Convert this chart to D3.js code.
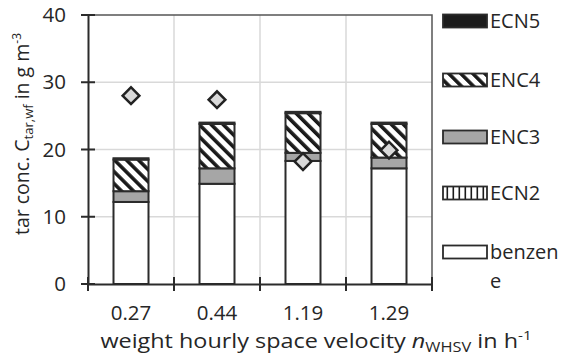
<!DOCTYPE html>
<html><head><meta charset="utf-8">
<script src="https://cdn.jsdelivr.net/npm/d3@7"></script>
<style>
html,body{margin:0;padding:0;background:#fff;}
svg{display:block;font-family:"Open Sans",sans-serif;}
</style></head>
<body>
<svg id="c" width="563" height="357"></svg>
<script>
const categories = ["0.27", "0.44", "1.19", "1.29"];
const benzene = [12.2, 14.9, 18.3, 17.2];
const ecn2 = [0, 0, 0, 0];
const enc3 = [1.6, 2.3, 1.2, 1.6];
const enc4 = [4.7, 6.6, 5.9, 5.0];
const ecn5 = [0.2, 0.2, 0.2, 0.2];
const measured = [28.0, 27.4, 18.2, 19.9];
const yTicks = [0, 10, 20, 30, 40];
const seriesNames = ["benzene", "ECN2", "ENC3", "ENC4", "ECN5"];
const legendLabels = ["ECN5", "ENC4", "ENC3", "ECN2", ["benzen", "e"]];

const svg = d3.select("#c");
const textColor = "#262626";
const lineColor = "#2b2b2b";
const m = {l: 88, r: 432, t: 15, b: 284};

const x = d3.scaleBand().domain(categories).range([m.l, m.r]).paddingInner(0).paddingOuter(0);
const y = d3.scaleLinear().domain([0, 40]).range([m.b, m.t]);

// patterns
const defs = svg.append("defs");
const p4 = defs.append("pattern").attr("id", "hatch4").attr("patternUnits", "userSpaceOnUse")
  .attr("width", 8.5).attr("height", 8.5).attr("patternTransform", "rotate(-45)");
p4.append("rect").attr("width", 8.5).attr("height", 8.5).attr("fill", "#fff");
p4.append("rect").attr("width", 3.6).attr("height", 8.5).attr("fill", "#1a1a1a");
const p2 = defs.append("pattern").attr("id", "hatch2").attr("patternUnits", "userSpaceOnUse")
  .attr("width", 6).attr("height", 6);
p2.append("rect").attr("width", 6).attr("height", 6).attr("fill", "#fff");
p2.append("rect").attr("x", 2.5).attr("width", 1.6).attr("height", 6).attr("fill", "#1a1a1a");

const fills = {"benzene": "#fff", "ECN2": "url(#hatch2)", "ENC3": "#a6a6a6", "ENC4": "url(#hatch4)", "ECN5": "#1c1c1c"};

// grid
const g = svg.append("g");
g.selectAll(".hg").data(yTicks.filter(d => d > 0 && d < 40)).join("line")
  .attr("x1", m.l).attr("x2", m.r).attr("y1", d => y(d)).attr("y2", d => y(d))
  .attr("stroke", "#d9d9d9").attr("stroke-width", 1.5);
g.selectAll(".vg").data(categories.slice(1)).join("line")
  .attr("x1", d => x(d)).attr("x2", d => x(d)).attr("y1", m.t).attr("y2", m.b)
  .attr("stroke", "#d9d9d9").attr("stroke-width", 1.5);

// frame top/right
svg.append("path").attr("d", `M${m.l},${m.t}H${m.r}V${m.b}`).attr("fill", "none")
  .attr("stroke", "#555").attr("stroke-width", 1.5);

// stacked bars
const rows = categories.map((c, i) => ({cat: c, benzene: benzene[i], ECN2: ecn2[i], ENC3: enc3[i], ENC4: enc4[i], ECN5: ecn5[i]}));
const stack = d3.stack().keys(seriesNames)(rows);
const bw = 35;
const bars = svg.append("g");
stack.forEach(s => {
  bars.selectAll(null).data(s.filter(d => d[1] - d[0] > 0)).join("rect")
    .attr("x", d => x(d.data.cat) + x.bandwidth() / 2 - bw / 2)
    .attr("width", bw)
    .attr("y", d => y(d[1]))
    .attr("height", d => y(d[0]) - y(d[1]))
    .attr("fill", fills[s.key])
    .attr("stroke", lineColor).attr("stroke-width", 2);
});

// axes
const yAxis = d3.axisLeft(y).tickValues(yTicks).tickSize(0).tickPadding(22);
const ya = svg.append("g").attr("transform", `translate(${m.l},0)`).call(yAxis);
ya.select(".domain").attr("stroke", lineColor).attr("stroke-width", 2);
ya.selectAll("text").attr("font-size", 20.5).attr("fill", textColor).attr("font-family", "Open Sans");
svg.selectAll(".yt").data(yTicks).join("line")
  .attr("x1", m.l - 7).attr("x2", m.l + 7).attr("y1", d => y(d)).attr("y2", d => y(d))
  .attr("stroke", lineColor).attr("stroke-width", 2);

const xAxis = d3.axisBottom(x).tickSize(0).tickPadding(21);
const xa = svg.append("g").attr("transform", `translate(0,${m.b})`).call(xAxis);
xa.select(".domain").attr("stroke", lineColor).attr("stroke-width", 2);
xa.selectAll("text").attr("font-size", 20.5).attr("fill", textColor).attr("font-family", "Open Sans");
const bounds = categories.map(c => x(c)).concat([m.r]);
svg.selectAll(".xt").data(bounds).join("line")
  .attr("x1", d => d).attr("x2", d => d).attr("y1", m.b - 7).attr("y2", m.b + 7)
  .attr("stroke", lineColor).attr("stroke-width", 2);

// measured diamonds
svg.append("g").selectAll("path").data(measured).join("path")
  .attr("d", d3.symbol().type(d3.symbolSquare).size(140))
  .attr("transform", (d, i) => `translate(${x(categories[i]) + x.bandwidth() / 2},${y(d)}) rotate(45)`)
  .attr("fill", "#d9d9d9").attr("stroke", "#222").attr("stroke-width", 2.5);

// legend
const legY = [21, 80, 137, 193, 252];
const legKeys = ["ECN5", "ENC4", "ENC3", "ECN2", "benzene"];
const lg = svg.append("g");
legKeys.forEach((k, i) => {
  lg.append("rect").attr("x", 443).attr("y", legY[i] - 6.5).attr("width", 44).attr("height", 13)
    .attr("fill", fills[k]).attr("stroke", lineColor).attr("stroke-width", 1.8);
  const lab = legendLabels[i];
  const t = lg.append("text").attr("x", 490).attr("y", legY[i]).attr("dy", "0.35em")
    .attr("font-size", 20).attr("fill", textColor);
  if (Array.isArray(lab)) {
    lab.forEach((s, j) => t.append("tspan").attr("x", 490).attr("dy", j === 0 ? "0.35em" : "1.45em").text(s));
  } else t.text(lab);
});

// axis titles
const xt = svg.append("text").attr("transform", "translate(316,348) scale(1.17,1)").attr("text-anchor", "middle")
  .attr("font-size", 20).attr("fill", textColor);
xt.append("tspan").text("weight hourly space velocity ");
xt.append("tspan").attr("font-style", "italic").text("n");
xt.append("tspan").attr("font-size", 14).attr("dy", 4).text("WHSV");
xt.append("tspan").attr("dy", -4).text(" in h");
xt.append("tspan").attr("font-size", 13).attr("dy", -8).text("-1");

const yt = svg.append("text").attr("transform", "translate(29,134) rotate(-90)").attr("text-anchor", "middle")
  .attr("font-size", 19.5).attr("fill", textColor);
yt.append("tspan").text("tar conc. C");
yt.append("tspan").attr("font-size", 13).attr("dy", 4).text("tar,wf");
yt.append("tspan").attr("dy", -4).text(" in g m");
yt.append("tspan").attr("font-size", 12).attr("dy", -8).text("-3");
</script>
</body></html>
